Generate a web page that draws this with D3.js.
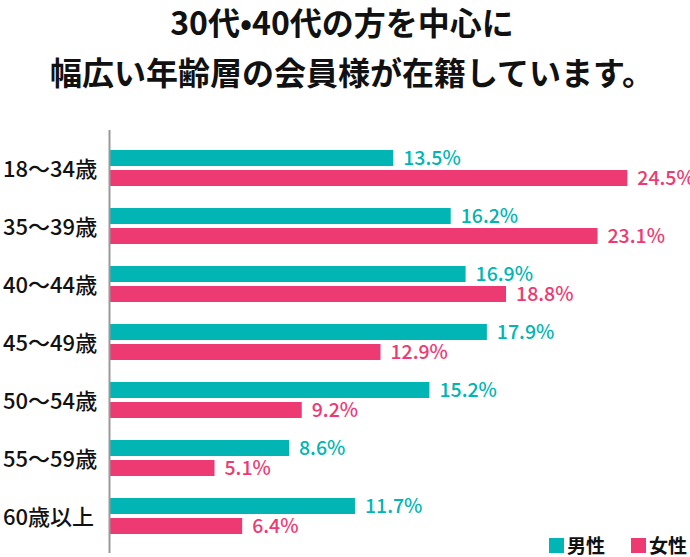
<!DOCTYPE html>
<html><head><meta charset="utf-8">
<script src="https://cdn.jsdelivr.net/npm/d3@7"></script>
<style>body{margin:0;background:#fff;} text{font-family:"Noto Sans CJK JP","Noto Sans",sans-serif;}</style>
</head><body><svg id="c" width="690" height="557"></svg>
<script>
const titleLines = ["30代•40代の方を中心に", "幅広い年齢層の会員様が在籍しています。"];
const categories = ["18〜34歳","35〜39歳","40〜44歳","45〜49歳","50〜54歳","55〜59歳","60歳以上"];
const male = [13.5,16.2,16.9,17.9,15.2,8.6,11.7];
const female = [24.5,23.1,18.8,12.9,9.2,5.1,6.4];
const seriesNames = ["男性","女性"];
const colors = ["#00b5b3","#ee3a72"];

const svg = d3.select("#c");
svg.selectAll("text.title").data(titleLines).join("text")
  .attr("x", (d,i)=>i?352:342).attr("y", (d,i)=>i?85:35)
  .attr("text-anchor","middle").attr("font-size",32).attr("font-weight",700)
  .attr("fill","#111").text(d=>d);

const axisX = 110;
const x = d3.scaleLinear().domain([0,24.5]).range([106,627.3]);
const y = d3.scaleBand().domain(categories).range([139,545]).paddingInner(0).paddingOuter(0);
const barH = 16, gap = 4;

const g = svg.append("g");
categories.forEach((c,i)=>{
  const y0 = y(c) + (y.bandwidth() - (2*barH+gap))/2;
  [male[i], female[i]].forEach((v,k)=>{
    const by = y0 + k*(barH+gap);
    g.append("rect").attr("x",axisX).attr("y",by).attr("width",x(v)-axisX).attr("height",barH).attr("fill",colors[k]);
    g.append("text").attr("x",x(v)+10).attr("y",by+barH-1).attr("font-size",19.5).attr("font-weight",500)
      .attr("fill",colors[k]).text(v.toFixed(1)+"%");
  });
  g.append("text").attr("x",3).attr("y",y(c)+y.bandwidth()/2+8.5).attr("font-size",22).attr("font-weight",500)
    .attr("fill","#111").text(c);
});

svg.append("line").attr("x1",109.5).attr("x2",109.5).attr("y1",130).attr("y2",553)
  .attr("stroke","#999").attr("stroke-width",2);

const leg = [{x:549,tx:567},{x:631,tx:649}];
seriesNames.forEach((s,k)=>{
  svg.append("rect").attr("x",leg[k].x).attr("y",538).attr("width",15).attr("height",15).attr("fill",colors[k]);
  svg.append("text").attr("x",leg[k].tx).attr("y",553).attr("font-size",19).attr("font-weight",700).attr("fill","#111").text(s);
});
</script></body></html>
